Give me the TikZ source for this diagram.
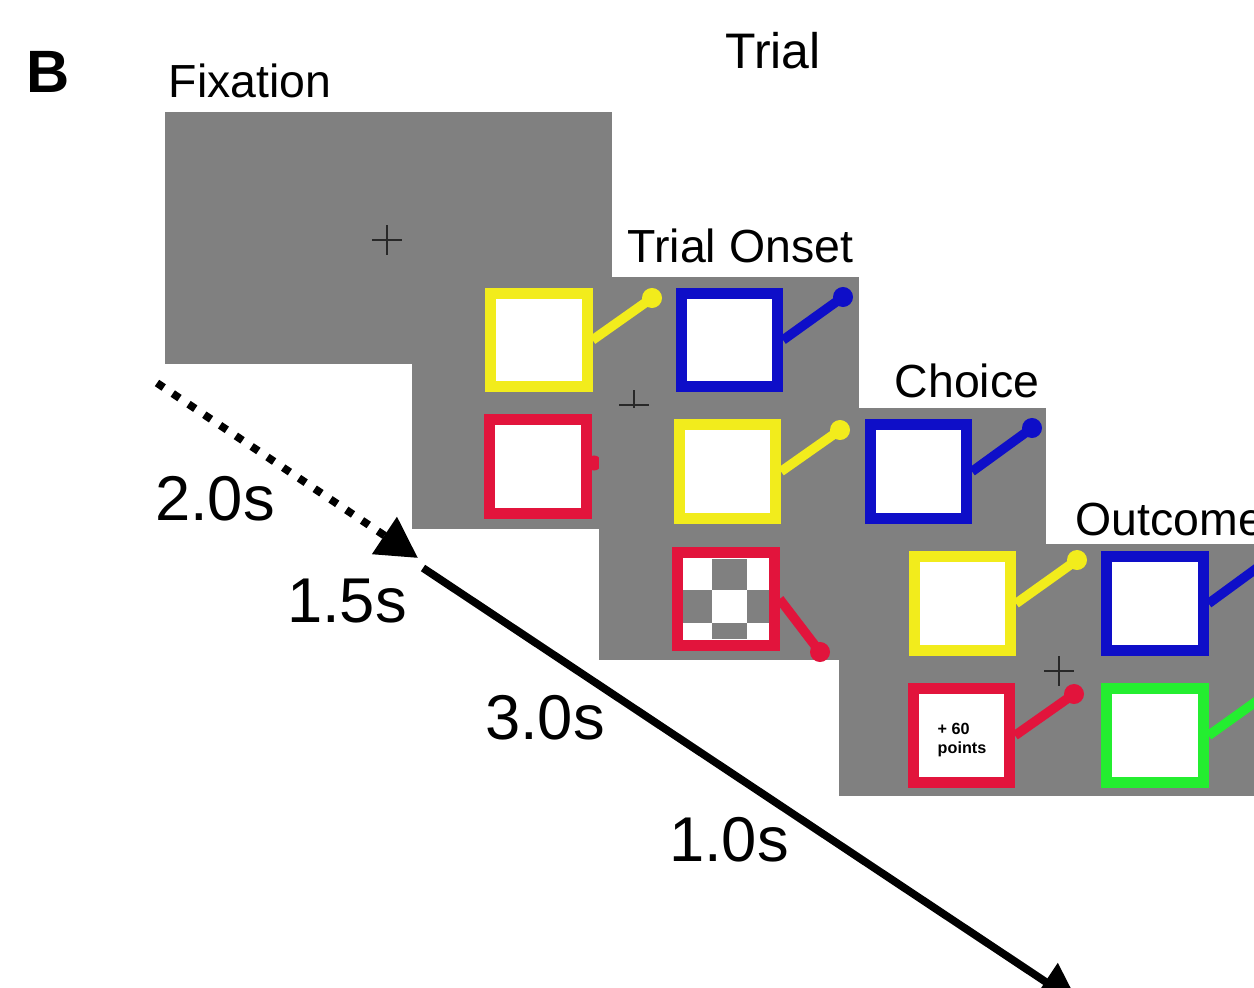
\documentclass[tikz,border=0pt]{standalone}
\usepackage{fontspec}
\setmainfont{Liberation Sans}
\usetikzlibrary{arrows.meta,shapes.misc}
\definecolor{panelgray}{RGB}{128,128,128}
\definecolor{sqyellow}{RGB}{242,236,28}
\definecolor{sqblue}{RGB}{14,14,200}
\definecolor{sqred}{RGB}{226,20,60}
\definecolor{sqgreen}{RGB}{36,238,48}
\definecolor{crossgray}{RGB}{40,40,40}
\begin{document}
\begin{tikzpicture}[x=0.01cm,y=-0.01cm,
  panel/.style={fill=panelgray, inner sep=0pt, anchor=north west,
    minimum width=4.47cm, minimum height=2.52cm},
  option/.style={draw=#1, fill=white, line width=1.1mm, inner sep=0pt,
    minimum width=0.96cm, minimum height=0.93cm},
  stick/.style={draw=#1, line width=0.95mm},
  knob/.style={circle, fill=#1, inner sep=0pt, minimum size=0.2cm},
  fixcross/.style={cross out, draw=crossgray, line width=0.6pt, rotate=45,
    inner sep=0pt, minimum size=0.19cm},
  title/.style={font=\fontsize{13.2}{15}\selectfont, anchor=base west, inner sep=0pt},
  dur/.style={font=\fontsize{18}{21}\selectfont, anchor=base, inner sep=0pt},
  timeline/.style={line width=2.2pt, -{Triangle[length=11.5pt,width=12.2pt]}},
]
\useasboundingbox (0,0) rectangle (1254,988);

% ---- Fixation screen
\node[panel] (fixPanel) at (164,111) {};
\node[fixcross] (fixCross) at (387,240) {};

% ---- Trial onset screen
\node[panel] (onPanel) at (411,276) {};
\node[fixcross] (onCross) at (634,405) {};
\node[option=sqyellow] (onY) at (539,340) {};
\node[knob=sqyellow] (onYk) at (652,298) {};
\draw[stick=sqyellow] (onY.east) -- (onYk.center);
\node[option=sqblue] (onB) at (729.5,340) {};
\node[knob=sqblue] (onBk) at (843,297) {};
\draw[stick=sqblue] (onB.east) -- (onBk.center);
\node[knob=sqred, minimum size=0.15cm] (onRk) at (594,463) {};
\node[option=sqred] (onR) at (538,466.5) {};

% ---- Choice screen
\node[panel] (chPanel) at (598,407) {};
\node[option=sqyellow] (chY) at (727.5,471.5) {};
\node[knob=sqyellow] (chYk) at (840,430) {};
\draw[stick=sqyellow] (chY.east) -- (chYk.center);
\node[option=sqblue] (chB) at (918.5,471.5) {};
\node[knob=sqblue] (chBk) at (1032,428) {};
\draw[stick=sqblue] (chB.east) -- (chBk.center);
\node[option=sqred] (chR) at (726,599) {};
\node[knob=sqred] (chRk) at (820,652) {};
\draw[stick=sqred] (chR.east) -- (chRk.center);
% checkered pattern of the chosen option
\fill[panelgray] (712,559) rectangle (747,590);
\fill[panelgray] (683,590) rectangle (712,623);
\fill[panelgray] (747,590) rectangle (769,623);
\fill[panelgray] (712,623) rectangle (747,639);

% ---- Outcome screen
\node[panel] (ocPanel) at (838,543) {};
\node[fixcross] (ocCross) at (1059,671) {};
\node[option=sqyellow] (ocY) at (962.5,603.5) {};
\node[knob=sqyellow] (ocYk) at (1077,560) {};
\draw[stick=sqyellow] (ocY.east) -- (ocYk.center);
\node[option=sqblue] (ocB) at (1155,603.5) {};
\node[knob=sqblue] (ocBk) at (1268,560) {};
\draw[stick=sqblue] (ocB.east) -- (ocBk.center);
\node[option=sqred] (ocR) at (961.5,735.5) {};
\node[knob=sqred] (ocRk) at (1074,694) {};
\draw[stick=sqred] (ocR.east) -- (ocRk.center);
\node[option=sqgreen] (ocG) at (1155,735.5) {};
\node[knob=sqgreen] (ocGk) at (1268,693) {};
\draw[stick=sqgreen] (ocG.east) -- (ocGk.center);
\node[font=\bfseries\fontsize{4.6}{5.2}\selectfont, align=left, inner sep=0pt]
  (points) at (962,740) {+ 60\\points};

% ---- Titles
\node[font=\bfseries\fontsize{17}{20}\selectfont, anchor=base west, inner sep=0pt]
  (panelB) at (26,93) {B};
\node[title] (tFix) at (168,98) {Fixation};
\node[font=\fontsize{14.2}{17}\selectfont, anchor=base, inner sep=0pt]
  (tTrial) at (773,69) {Trial};
\node[title] (tOnset) at (627,263) {Trial Onset};
\node[title] (tChoice) at (894,397) {Choice};
\node[title] (tOutcome) at (1075,535) {Outcome};

% ---- Time line
\coordinate (dotStart) at (157,383);
\coordinate (dotTip) at (418,558);
\coordinate (lineStart) at (423,568);
\coordinate (lineTip) at (1079,1004);
\draw[timeline, dash pattern=on 2.3pt off 3.1pt] (dotStart) -- (dotTip);
\draw[timeline] (lineStart) -- (lineTip);
\node[dur] (d20) at (215,520) {2.0s};
\node[dur] (d15) at (347,622) {1.5s};
\node[dur] (d30) at (545,739) {3.0s};
\node[dur] (d10) at (729,861) {1.0s};
\end{tikzpicture}
\end{document}
